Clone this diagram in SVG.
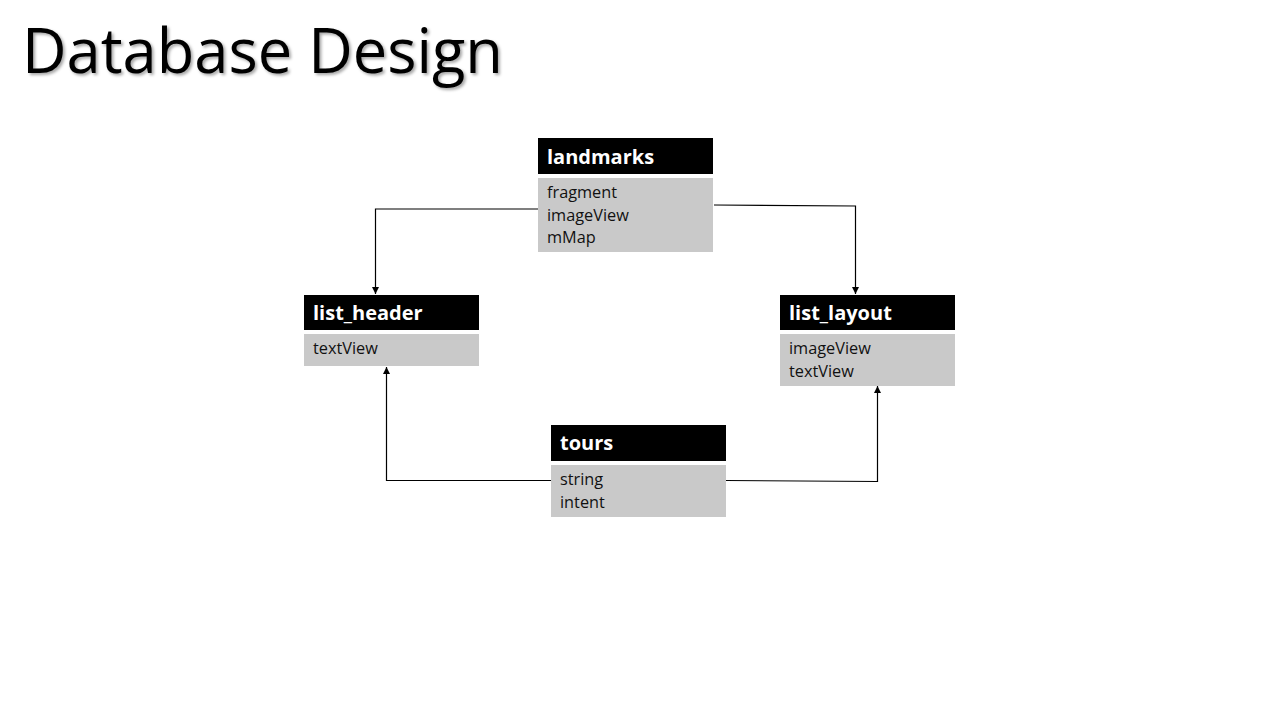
<svg xmlns="http://www.w3.org/2000/svg" width="1280" height="720" viewBox="0 0 1280 720">
<defs>
<style>
.hdr{fill:#000}
.body{fill:#c9c9c9}
.ht{font-family:"Open Sans","Noto Sans","Liberation Sans",sans-serif;font-weight:bold;font-size:20px;fill:#fff}
.bt{font-family:"Open Sans","Noto Sans","Liberation Sans",sans-serif;font-size:16.3px;fill:#111}
.con{fill:none;stroke:#000;stroke-width:1.2}
.title{font-family:"Open Sans","Noto Sans","Liberation Sans",sans-serif;font-size:62px;fill:#000}
</style>
<marker id="arr" viewBox="0 0 10 10" refX="10" refY="5" markerWidth="7" markerHeight="7" markerUnits="userSpaceOnUse" orient="auto">
<path d="M0,0 L10,5 L0,10 z" fill="#000"/>
</marker>
<filter id="sh" x="-5%" y="-20%" width="115%" height="150%">
<feDropShadow dx="2" dy="2" stdDeviation="1.5" flood-color="#000" flood-opacity="0.35"/>
</filter>
</defs>
<rect width="1280" height="720" fill="#fff"/>
<text class="title" x="22" y="73" filter="url(#sh)" textLength="481" lengthAdjust="spacingAndGlyphs">Database Design</text>
<g id="connectors">
<path class="con" d="M538,209 H375.5 V294" marker-end="url(#arr)"/>
<path class="con" d="M714,205 L855.5,206 V294" marker-end="url(#arr)"/>
<path class="con" d="M551,480.5 H386.5 V367" marker-end="url(#arr)"/>
<path class="con" d="M726,480.5 L877.5,481.5 V386" marker-end="url(#arr)"/>
</g>
<g id="landmarks">
<rect class="hdr" x="538" y="138" width="175" height="36"/>
<text class="ht" x="547" y="164">landmarks</text>
<rect class="body" x="538" y="178" width="175" height="74"/>
<text class="bt" x="547" y="198">fragment</text>
<text class="bt" x="547" y="221">imageView</text>
<text class="bt" x="547" y="243">mMap</text>
</g>
<g id="list_header">
<rect class="hdr" x="304" y="295" width="175" height="35"/>
<text class="ht" x="313" y="320">list_header</text>
<rect class="body" x="304" y="334" width="175" height="32"/>
<text class="bt" x="313" y="354">textView</text>
</g>
<g id="list_layout">
<rect class="hdr" x="780" y="295" width="175" height="35"/>
<text class="ht" x="789" y="320">list_layout</text>
<rect class="body" x="780" y="334" width="175" height="52"/>
<text class="bt" x="789" y="354">imageView</text>
<text class="bt" x="789" y="377">textView</text>
</g>
<g id="tours">
<rect class="hdr" x="551" y="425" width="175" height="36"/>
<text class="ht" x="560" y="450">tours</text>
<rect class="body" x="551" y="465" width="175" height="52"/>
<text class="bt" x="560" y="485">string</text>
<text class="bt" x="560" y="508">intent</text>
</g>
</svg>
